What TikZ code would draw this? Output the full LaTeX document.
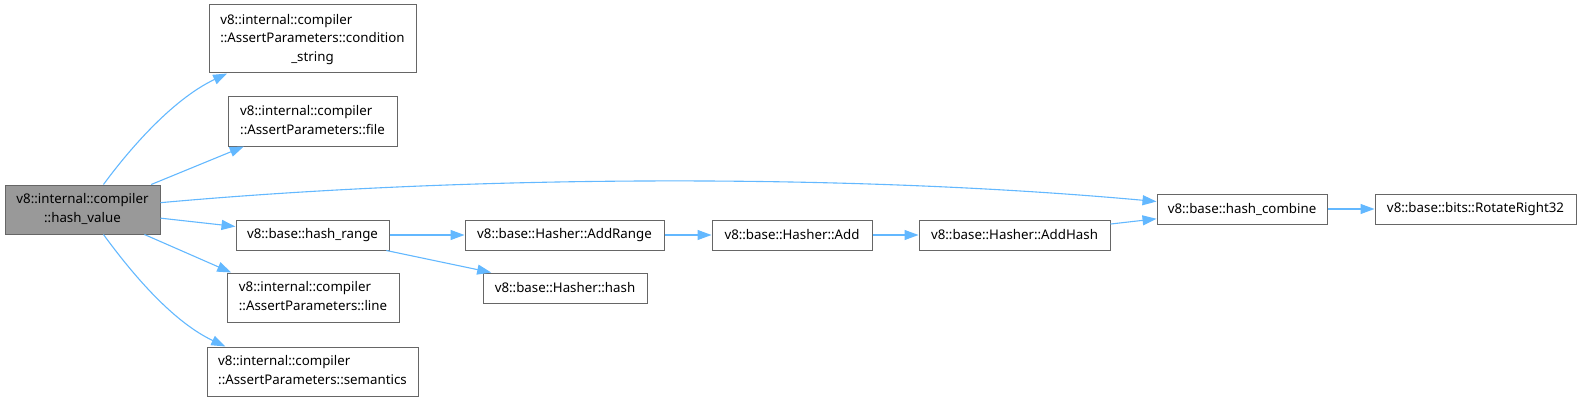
\documentclass[tikz,border=0pt]{standalone}
\usepackage{fontspec}
\setmainfont{Noto Sans}
\usetikzlibrary{arrows.meta}
\definecolor{edgeblue}{HTML}{63B8FF}
\definecolor{boxgray}{HTML}{666666}
\definecolor{hvfill}{HTML}{999999}
\newcommand{\fnlines}[2]{\begin{tabular}{@{}l@{}}#1\\\multicolumn{1}{@{}c@{}}{#2}\end{tabular}}

\begin{document}
\begin{tikzpicture}[x=1pt, y=-1pt,
    fnbox/.style={draw=boxgray, line width=1pt, fill=white, inner sep=0pt,
      font=\fontsize{13.3}{18.5}\selectfont},
    one/.style={minimum height=30pt},
    two/.style={minimum height=49pt},
    call/.style={draw=edgeblue, line width=1.1pt, -{Triangle[length=14pt,width=10pt]}}]
  \useasboundingbox (0,0) rectangle (1581,401);
  \node[fnbox, two, minimum width=155pt, fill=hvfill] (hv) at (82.5,209.5)
    {\fnlines{v8::internal::compiler}{::hash\_value}};
  \node[fnbox, minimum width=207pt, minimum height=68pt] (cond) at (312.5,39)
    {\fnlines{v8::internal::compiler\\::AssertParameters::condition}{\_string}};
  \node[fnbox, two, minimum width=169pt] (file) at (312.5,121.5)
    {\fnlines{v8::internal::compiler}{::AssertParameters::file}};
  \node[fnbox, one, minimum width=153pt] (hr) at (312.5,235) {v8::base::hash\_range};
  \node[fnbox, two, minimum width=172pt] (line) at (313,297.5)
    {\fnlines{v8::internal::compiler}{::AssertParameters::line}};
  \node[fnbox, two, minimum width=211pt] (sem) at (312.5,371.5)
    {\fnlines{v8::internal::compiler}{::AssertParameters::semantics}};
  \node[fnbox, one, minimum width=199pt] (addrange) at (564.5,235) {v8::base::Hasher::AddRange};
  \node[fnbox, one, minimum width=164pt] (hash) at (565,288) {v8::base::Hasher::hash};
  \node[fnbox, one, minimum width=160pt] (add) at (792,235) {v8::base::Hasher::Add};
  \node[fnbox, one, minimum width=191pt] (addhash) at (1014.5,235) {v8::base::Hasher::AddHash};
  \node[fnbox, one, minimum width=170pt] (combine) at (1242,209) {v8::base::hash\_combine};
  \node[fnbox, one, minimum width=201pt] (rot) at (1475.5,209) {v8::base::bits::RotateRight32};

  \draw[call] (hv.50.1) .. controls +(22,-30) and +(-57,27) .. (cond.-158.3);
  \draw[call] (hv.-50.1) .. controls +(22,30) and +(-57,-27) .. (sem.164);
  \draw[call] (hv.20.5) -- (file.200.7);
  \draw[call] (hv.-22.4) -- (line.163);
  \draw[call] (hv.5.5) .. controls +(310,-28) and +(-307,-28) .. (combine.175.3);
  \foreach \a/\b in {hv/hr, hr/addrange, hr/hash, addrange/add, add/addhash,
      addhash/combine, combine/rot}
    \draw[call] (\a) -- (\b);
\end{tikzpicture}
\end{document}
